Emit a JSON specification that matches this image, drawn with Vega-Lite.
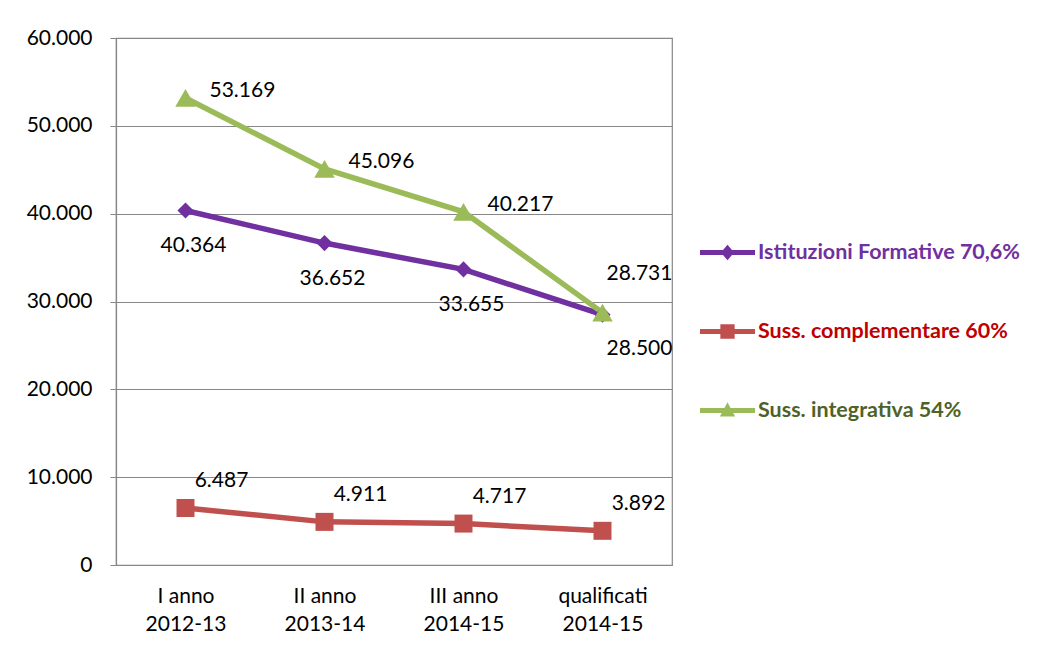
{
  "$schema": "https://vega.github.io/schema/vega-lite/v6.json",
  "width": 556,
  "height": 527,
  "autosize": {"type": "none"},
  "padding": {"left": 116, "top": 38, "right": 384, "bottom": 87},
  "background": "white",
  "config": {
    "locale": {"number": {"decimal": ",", "thousands": ".", "grouping": [3], "currency": ["", " €"]}},
    "font": "Lato",
    "view": {"stroke": "#878787", "strokeWidth": 1.2},
    "axis": {"labelFont": "Lato", "labelFontSize": 21, "labelColor": "#000000", "domainColor": "#878787", "tickColor": "#878787", "gridColor": "#878787", "domainWidth": 1.2, "gridWidth": 1.2, "title": null}
  },
  "data": {"values": [
    {"cat": "I anno 2012-13", "series": "Istituzioni Formative 70,6%", "value": 40364},
    {"cat": "II anno 2013-14", "series": "Istituzioni Formative 70,6%", "value": 36652},
    {"cat": "III anno 2014-15", "series": "Istituzioni Formative 70,6%", "value": 33655},
    {"cat": "qualificati 2014-15", "series": "Istituzioni Formative 70,6%", "value": 28500},
    {"cat": "I anno 2012-13", "series": "Suss. complementare 60%", "value": 6487},
    {"cat": "II anno 2013-14", "series": "Suss. complementare 60%", "value": 4911},
    {"cat": "III anno 2014-15", "series": "Suss. complementare 60%", "value": 4717},
    {"cat": "qualificati 2014-15", "series": "Suss. complementare 60%", "value": 3892},
    {"cat": "I anno 2012-13", "series": "Suss. integrativa 54%", "value": 53169},
    {"cat": "II anno 2013-14", "series": "Suss. integrativa 54%", "value": 45096},
    {"cat": "III anno 2014-15", "series": "Suss. integrativa 54%", "value": 40217},
    {"cat": "qualificati 2014-15", "series": "Suss. integrativa 54%", "value": 28731}
  ]},
  "encoding": {
    "x": {"field": "cat", "type": "ordinal", "sort": null, "scale": {"type": "point", "padding": 0.5},
      "axis": {"labelAngle": 0, "ticks": false, "labelPadding": 20, "labelLineHeight": 28, "labelBaseline": "top",
        "labelExpr": "[slice(datum.label, 0, lastindexof(datum.label, ' ')), slice(datum.label, lastindexof(datum.label, ' ') + 1)]"}},
    "y": {"field": "value", "type": "quantitative", "scale": {"domain": [0, 60000], "nice": false},
      "axis": {"values": [0, 10000, 20000, 30000, 40000, 50000, 60000], "format": ",d", "tickSize": 6, "labelPadding": 18}}
  },
  "layer": [
    {
      "mark": {"type": "line", "strokeWidth": 5.5},
      "encoding": {
        "color": {"field": "series", "type": "nominal",
          "legend": {"orient": "none", "legendX": 584, "legendY": 187, "title": null, "padding": 0,
            "symbolSize": 3025, "symbolStrokeWidth": 0, "labelOffset": 3, "rowPadding": 41, "labelLimit": 500,
            "labelFont": "Lato", "labelFontSize": 21.5, "labelFontWeight": "bold",
            "encode": {
              "symbols": {"update": {
                "shape": {"signal": "datum.value == 'Istituzioni Formative 70,6%' ? 'M-1,-0.09H1V0.09H-1Z M0,-0.28L0.24,0L0,0.28L-0.24,0Z' : datum.value == 'Suss. complementare 60%' ? 'M-1,-0.09H1V0.09H-1Z M-0.26,-0.26H0.26V0.26H-0.26Z' : 'M-1,-0.09H1V0.09H-1Z M0,-0.3L0.28,0.22H-0.28Z'"},
                "fill": {"signal": "datum.value == 'Istituzioni Formative 70,6%' ? '#7030A0' : datum.value == 'Suss. complementare 60%' ? '#C0504D' : '#9BBB59'"},
                "fillOpacity": {"value": 1},
                "strokeWidth": {"value": 0}
              }},
              "labels": {"update": {"fill": {"signal": "datum.value == 'Istituzioni Formative 70,6%' ? '#7030A0' : datum.value == 'Suss. complementare 60%' ? '#C00000' : '#4F6228'"}}}
            }},
          "scale": {"domain": ["Istituzioni Formative 70,6%", "Suss. complementare 60%", "Suss. integrativa 54%"], "range": ["#7030A0", "#C0504D", "#9BBB59"]}},
        "detail": {"field": "series"},
        "order": {"field": "cat"}
      }
    },
    {
      "transform": [{"filter": "datum.series == 'Istituzioni Formative 70,6%'"}],
      "mark": {"type": "point", "filled": true, "opacity": 1, "shape": "diamond", "size": 260, "color": "#7030A0"}
    },
    {
      "transform": [{"filter": "datum.series == 'Suss. complementare 60%'"}],
      "mark": {"type": "point", "filled": true, "opacity": 1, "shape": "square", "size": 324, "color": "#C0504D"}
    },
    {
      "transform": [{"filter": "datum.series == 'Suss. integrativa 54%'"}],
      "mark": {"type": "point", "filled": true, "opacity": 1, "shape": "triangle-up", "size": 420, "color": "#9BBB59"}
    },
    {
      "transform": [{"filter": "datum.series == 'Istituzioni Formative 70,6%' && datum.cat != 'qualificati 2014-15'"}],
      "mark": {"type": "text", "fontSize": 21, "font": "Lato", "align": "center", "baseline": "middle", "dx": 8, "dy": 36, "color": "#000000"},
      "encoding": {"text": {"field": "value", "type": "quantitative", "format": ",d"}}
    },
    {
      "transform": [{"filter": "datum.series == 'Istituzioni Formative 70,6%' && datum.cat == 'qualificati 2014-15'"}],
      "mark": {"type": "text", "fontSize": 21, "font": "Lato", "align": "center", "baseline": "middle", "dx": 37, "dy": 34, "color": "#000000"},
      "encoding": {"text": {"field": "value", "type": "quantitative", "format": ",d"}}
    },
    {
      "transform": [{"filter": "datum.series == 'Suss. complementare 60%'"}],
      "mark": {"type": "text", "fontSize": 21, "font": "Lato", "align": "center", "baseline": "middle", "dx": 36, "dy": -27, "color": "#000000"},
      "encoding": {"text": {"field": "value", "type": "quantitative", "format": ",d"}}
    },
    {
      "transform": [{"filter": "datum.series == 'Suss. integrativa 54%' && datum.cat != 'qualificati 2014-15'"}],
      "mark": {"type": "text", "fontSize": 21, "font": "Lato", "align": "left", "baseline": "middle", "dx": 24, "dy": -7, "color": "#000000"},
      "encoding": {"text": {"field": "value", "type": "quantitative", "format": ",d"}}
    },
    {
      "transform": [{"filter": "datum.series == 'Suss. integrativa 54%' && datum.cat == 'qualificati 2014-15'"}],
      "mark": {"type": "text", "fontSize": 21, "font": "Lato", "align": "center", "baseline": "middle", "dx": 37, "dy": -39, "color": "#000000"},
      "encoding": {"text": {"field": "value", "type": "quantitative", "format": ",d"}}
    }
  ]
}
